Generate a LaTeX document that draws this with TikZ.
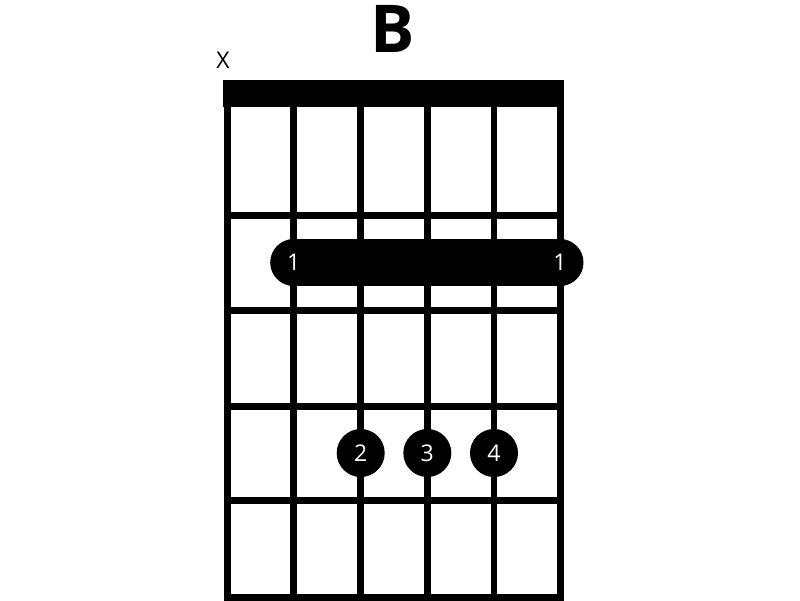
\documentclass[tikz,border=0pt]{standalone}
\usepackage{fontspec}
\setmainfont{Open Sans}
\usepackage{tikz}

\tikzset{
	fret/.style={line width=6.5pt},
	barre/.style={line width=47pt, line cap=round},
	finger/.style={text=white, font=\fontsize{23}{23}\selectfont, inner sep=0pt},
	dot/.style={circle, fill=black, minimum size=48pt, inner sep=0pt, text=white, font=\fontsize{23}{23}\selectfont}
}

\begin{document}
\begin{tikzpicture}[x=1pt,y=-1pt]
	\useasboundingbox (0,0) rectangle (800,600);
	%\draw[help lines] (0,0) grid[step=50] (800,600);
	\node[inner sep=0pt, font=\fontsize{66}{66}\selectfont\bfseries] (title) at (393,28.5) {B};
	\node[inner sep=0pt, font=\fontsize{23}{23}\selectfont] (mute) at (223,60) {X};
	\fill (223,80) rectangle (563.5,107);
	% strings
	\draw[line width=7pt] (227,100) -- (227,600);
	\draw[fret] (293.7,100) -- (293.7,600);
	\draw[fret] (360.7,100) -- (360.7,600);
	\draw[fret] (427.3,100) -- (427.3,600);
	\draw[fret] (494,100) -- (494,600);
	\draw[line width=7pt] (560,100) -- (560,600);
	% frets
	\draw[fret] (223.5,215.3) -- (563.5,215.3);
	\draw[fret] (223.5,310.3) -- (563.5,310.3);
	\draw[fret] (223.5,406.3) -- (563.5,406.3);
	\draw[fret] (223.5,500.7) -- (563.5,500.7);
	\draw[line width=7pt] (223.5,597) -- (563.5,597);
	% barre
	\coordinate (bL) at (293.7,262.5);
	\coordinate (bR) at (560,262.5);
	\draw[barre] (bL) -- (bR);
	\node[finger] (b1) at (bL) {1};
	\node[finger] (b6) at (bR) {1};
	\node[dot] (f2) at (360.7,453) {2};
	\node[dot] (f3) at (427.3,453) {3};
	\node[dot] (f4) at (494,453) {4};
\end{tikzpicture}
\end{document}
